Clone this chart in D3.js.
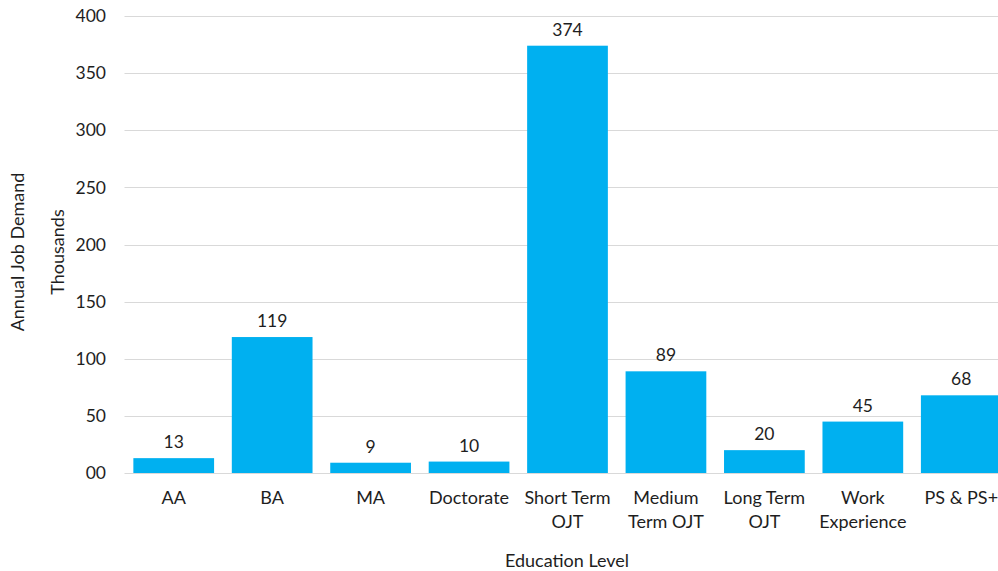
<!DOCTYPE html>
<html><head><meta charset="utf-8">
<script src="https://cdn.jsdelivr.net/npm/d3@7"></script>
<style>body{margin:0;background:#fff}svg{display:block}</style>
</head><body><svg id="c" width="998" height="571"></svg>
<script>
const categories = [["AA"],["BA"],["MA"],["Doctorate"],["Short Term","OJT"],["Medium","Term OJT"],["Long Term","OJT"],["Work","Experience"],["PS & PS+"]];
const values = [13,119,9,10,374,89,20,45,68];
const yTicks = [0,50,100,150,200,250,300,350,400];
const yTickLabels = ["00","50","100","150","200","250","300","350","400"];

(function(){
const svg = d3.select("#c");
const font = "Lato, sans-serif";
const fsN = 17.5, fsW = 18;
const txt = "#1e1e1e";
const pl = 124.5, pr = 1010.5, pt = 16, pb = 473;
const x = d3.scaleBand().domain(d3.range(categories.length)).range([pl, pr]).paddingInner(0.18).paddingOuter(0.09);
const y = d3.scaleLinear().domain([0,400]).range([pb, pt]);

const g = svg.append("g");
g.selectAll("line.grid").data(yTicks).join("line")
  .attr("x1", pl).attr("x2", 998).attr("y1", d=>Math.round(y(d))+0.5).attr("y2", d=>Math.round(y(d))+0.5)
  .attr("stroke", "#d9d9d9").attr("stroke-width", 1);

g.selectAll("text.yt").data(yTicks).join("text")
  .attr("x", 106).attr("y", d=>y(d)).attr("dy","0.35em").attr("text-anchor","end")
  .attr("font-family", font).attr("font-size", fsN).attr("fill", txt)
  .text((d,i)=>yTickLabels[i]);

g.selectAll("rect").data(values).join("rect")
  .attr("x",(d,i)=>x(i)).attr("width", x.bandwidth())
  .attr("y", d=>y(d)).attr("height", d=>y(0)-y(d)).attr("fill","#00b0f0");

g.selectAll("text.v").data(values).join("text")
  .attr("x",(d,i)=>x(i)+x.bandwidth()/2).attr("y", d=>y(d)-10)
  .attr("text-anchor","middle").attr("font-family", font).attr("font-size", fsN).attr("fill", txt)
  .text(d=>d);

categories.forEach((lines,i)=>{
  const t = g.append("text").attr("x", x(i)+x.bandwidth()/2).attr("y", 504)
    .attr("text-anchor","middle").attr("font-family", font).attr("font-size", fsW).attr("fill", txt);
  lines.forEach((l,j)=>t.append("tspan").attr("x", x(i)+x.bandwidth()/2).attr("dy", j?24:0).text(l));
});

g.append("text").attr("x", 567).attr("y", 567).attr("text-anchor","middle")
  .attr("font-family", font).attr("font-size", fsW).attr("fill", txt).text("Education Level");
g.append("text").attr("transform","translate(24,252) rotate(-90)").attr("text-anchor","middle")
  .attr("font-family", font).attr("font-size", fsW).attr("fill", txt).text("Annual Job Demand");
g.append("text").attr("transform","translate(64,252) rotate(-90)").attr("text-anchor","middle")
  .attr("font-family", font).attr("font-size", fsW).attr("fill", txt).text("Thousands");
})();
</script></body></html>
